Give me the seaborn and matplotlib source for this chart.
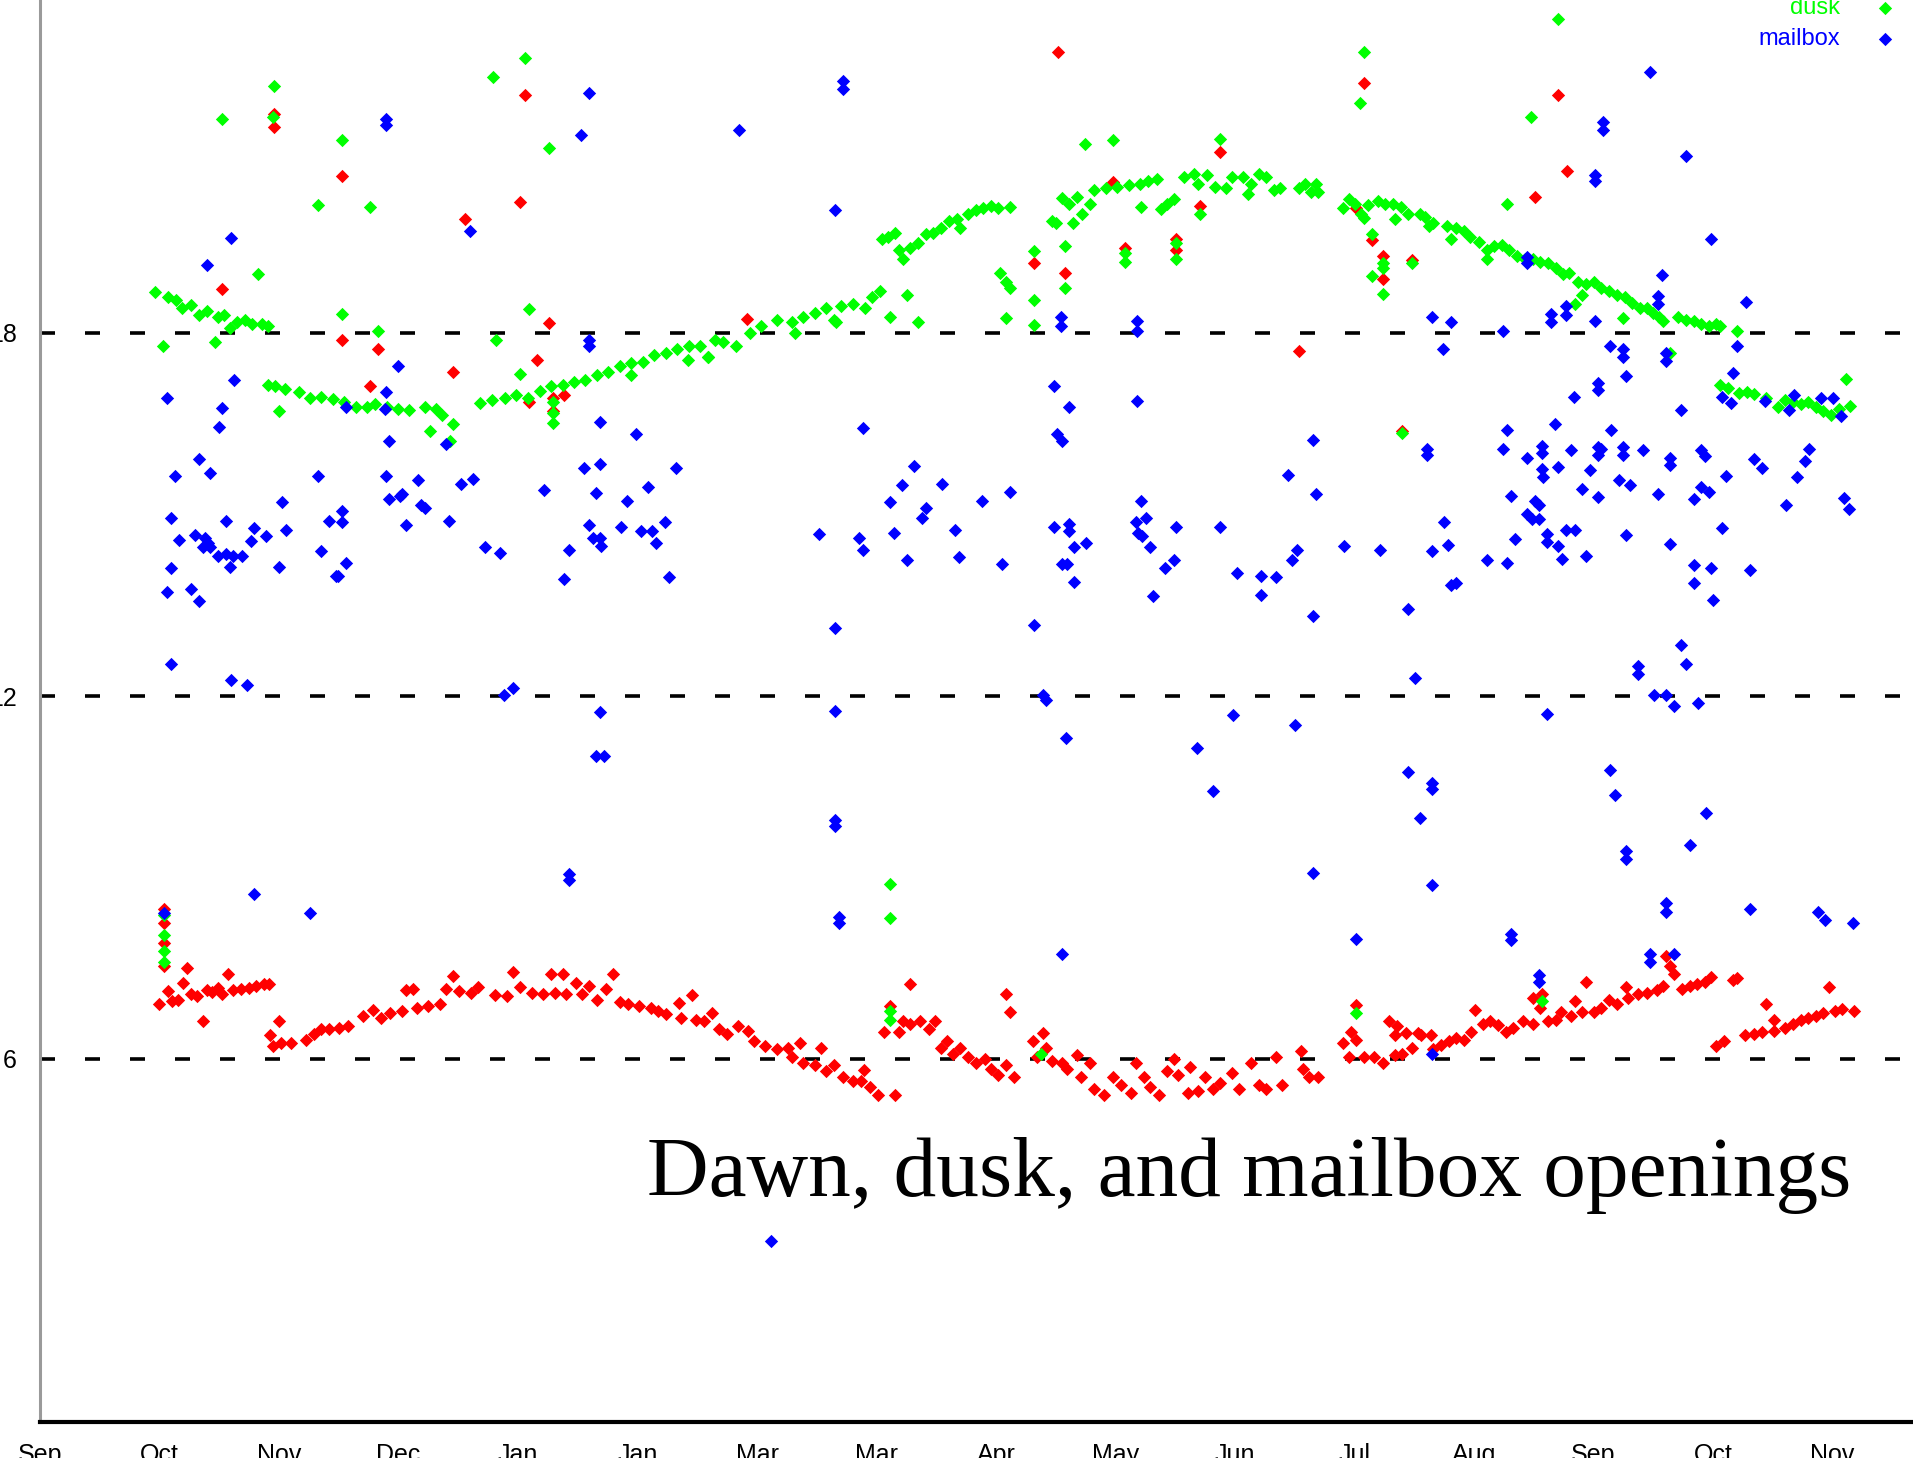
import pandas as pd
import seaborn as sns
import matplotlib.pyplot as plt

# --- data: (day since Sep 1, hour of day) ---
dawn_pts = [
    (31.1, 8.48), (31.1, 8.25), (31.1, 7.92), (31.1, 7.53),
    (29.8, 6.91), (32.2, 7.13), (33.2, 6.96), (34.6, 6.98), (36.0, 7.26), (37.0, 7.50),
    (38.0, 7.07), (39.4, 7.04), (40.9, 6.62), (41.8, 7.14), (43.3, 7.11), (44.7, 7.17),
    (45.7, 7.07), (47.1, 7.41), (48.5, 7.14), (50.5, 7.15), (52.4, 7.17), (54.3, 7.20),
    (56.2, 7.24), (57.4, 7.24), (57.7, 6.39), (58.6, 6.22), (60.1, 6.62), (60.5, 6.26),
    (62.9, 6.26), (66.8, 6.32), (68.7, 6.42), (70.6, 6.49), (72.6, 6.49), (75.0, 6.52),
    (77.4, 6.55), (81.2, 6.71), (83.6, 6.81), (85.5, 6.68), (87.9, 6.76), (90.8, 6.80),
    (91.8, 7.14), (93.7, 7.15), (94.6, 6.85), (97.5, 6.88), (100.4, 6.91), (101.9, 7.15),
    (103.8, 7.37), (105.2, 7.13), (108.1, 7.09), (110.0, 7.19), (114.3, 7.06), (117.2, 7.04),
    (118.7, 7.43), (120.6, 7.19), (123.5, 7.09), (126.3, 7.07), (128.3, 7.41), (129.2, 7.09),
    (131.2, 7.40), (132.1, 7.07), (134.5, 7.26), (136.0, 7.07), (137.9, 7.20), (139.8, 6.98),
    (142.2, 7.15), (143.8, 7.41), (145.6, 6.94), (147.5, 6.91), (150.4, 6.88), (153.3, 6.85),
    (155.2, 6.80), (157.1, 6.75), (160.4, 6.93), (160.9, 6.68), (163.6, 7.06), (164.8, 6.65),
    (166.7, 6.62), (168.6, 6.76), (170.5, 6.49), (172.5, 6.42), (175.3, 6.55), (177.7, 6.47),
    (179.2, 6.29), (182.0, 6.22), (184.9, 6.16), (187.8, 6.19), (188.8, 6.03), (190.7, 6.26),
    (191.6, 5.93), (194.5, 5.90), (196.0, 6.19), (197.4, 5.80), (199.3, 5.90), (201.7, 5.70),
    (204.1, 5.64), (206.0, 5.64), (206.8, 5.82), (208.4, 5.54), (210.4, 5.41), (214.7, 5.41),
    (211.8, 6.45), (213.5, 6.88), (215.7, 6.45), (216.6, 6.62), (218.5, 6.58), (218.3, 7.24),
    (220.9, 6.62), (223.3, 6.49), (224.8, 6.62), (226.2, 6.19), (227.7, 6.29), (229.1, 6.09),
    (231.0, 6.19), (233.0, 6.03), (234.9, 5.93), (237.3, 6.00), (238.7, 5.83), (240.6, 5.73),
    (242.5, 5.90), (244.5, 5.70), (242.4, 7.07), (243.5, 6.78), (249.3, 6.30), (250.2, 6.03),
    (251.7, 6.43), (252.6, 6.19), (254.1, 5.96), (256.5, 5.93), (257.9, 5.83), (260.3, 6.06),
    (261.3, 5.70), (263.7, 5.93), (264.6, 5.51), (267.0, 5.41), (269.4, 5.70), (271.3, 5.57),
    (273.8, 5.44), (275.2, 5.93), (277.1, 5.70), (278.6, 5.54), (281.0, 5.41), (282.9, 5.80),
    (284.8, 6.00), (285.8, 5.73), (288.2, 5.44), (288.7, 5.87), (290.6, 5.47), (292.5, 5.70),
    (294.4, 5.51), (296.3, 5.60), (299.2, 5.77), (301.1, 5.51), (304.0, 5.93), (306.0, 5.57),
    (307.9, 5.51), (310.3, 6.03), (311.7, 5.57), (316.6, 6.13), (317.1, 5.83), (318.5, 5.70),
    (320.9, 5.70), (327.2, 6.26), (328.6, 6.03), (329.1, 6.45), (330.3, 6.32), (330.3, 6.89),
    (332.4, 6.03), (334.8, 6.03), (337.2, 5.93), (338.7, 6.62), (340.1, 6.06), (340.1, 6.39),
    (340.6, 6.55), (342.0, 6.09), (343.0, 6.43), (344.4, 6.19), (345.9, 6.43), (346.8, 6.39),
    (349.2, 6.39), (349.7, 6.16), (351.6, 6.23), (353.6, 6.29), (355.5, 6.35), (357.4, 6.32),
    (359.3, 6.45), (360.3, 6.81), (362.2, 6.58), (364.1, 6.62), (366.1, 6.56), (368.0, 6.45),
    (369.9, 6.52), (372.3, 6.62), (374.7, 7.01), (374.7, 6.58), (376.6, 6.85), (377.1, 7.07),
    (378.5, 6.62), (380.5, 6.65), (381.9, 6.78), (384.3, 6.71), (385.3, 6.96), (387.2, 6.78),
    (388.1, 7.28), (390.1, 6.78), (392.0, 6.85), (393.9, 6.98), (395.8, 6.91), (398.2, 7.19),
    (398.7, 7.01), (401.1, 7.07), (403.5, 7.09), (405.9, 7.14), (407.4, 7.20), (408.3, 7.71),
    (409.3, 7.53), (410.2, 7.40), (412.2, 7.15), (414.1, 7.20), (416.0, 7.24), (417.9, 7.28),
    (419.4, 7.35), (420.8, 6.22), (422.7, 6.29), (425.1, 7.30), (426.1, 7.34), (428.0, 6.39),
    (430.4, 6.42), (432.3, 6.45), (433.3, 6.91), (435.2, 6.65), (435.2, 6.47), (438.1, 6.52),
    (440.0, 6.58), (442.0, 6.65), (443.9, 6.68), (445.8, 6.71), (447.7, 6.76), (449.2, 7.19),
    (450.6, 6.80), (452.5, 6.82), (455.4, 6.80),
    # stray dawn readings up in the evening
    (45.7, 18.72), (58.8, 21.62), (58.8, 21.40), (75.7, 20.60), (75.7, 17.89), (82.8, 17.12),
    (84.8, 17.73), (103.8, 17.36), (106.7, 19.88), (120.6, 20.16), (121.8, 21.94), (122.8, 16.86),
    (124.7, 17.56), (127.8, 18.17), (128.8, 16.93), (128.8, 16.71), (131.6, 16.97), (177.5, 18.23),
    (249.6, 19.16), (255.5, 22.64), (257.4, 19.00), (269.4, 20.49), (272.3, 19.40), (285.3, 19.55),
    (285.3, 19.37), (291.3, 20.10), (296.3, 21.00), (316.1, 17.71), (330.3, 20.07), (332.4, 22.13),
    (334.4, 19.53), (337.2, 19.28), (337.2, 18.89), (342.0, 16.38), (344.4, 19.20), (375.2, 20.25),
    (381.2, 21.94), (383.4, 20.68),
]

dusk_pts = [
    (31.1, 8.38), (31.1, 8.05), (31.1, 7.79), (31.1, 7.60),
    (28.8, 18.67), (30.8, 17.78), (32.2, 18.59), (34.1, 18.54), (35.6, 18.41), (38.0, 18.47),
    (39.9, 18.29), (41.8, 18.37), (44.0, 17.85), (44.7, 18.26), (46.1, 18.30), (47.6, 18.08),
    (49.5, 18.19), (51.4, 18.22), (53.3, 18.15), (55.7, 18.15), (57.2, 18.11), (57.2, 17.14),
    (59.1, 17.12), (61.5, 17.08), (64.9, 17.02), (67.7, 16.93), (70.6, 16.95), (73.5, 16.91),
    (76.4, 16.86), (79.3, 16.78), (82.2, 16.77), (84.1, 16.82), (87.0, 16.78), (89.8, 16.75),
    (92.7, 16.72), (96.6, 16.78), (97.8, 16.38), (99.4, 16.75), (100.9, 16.64), (103.0, 16.21),
    (103.8, 16.50), (110.5, 16.84), (113.4, 16.90), (116.7, 16.93), (119.6, 16.97), (122.5, 16.93),
    (125.4, 17.04), (128.3, 17.12), (131.2, 17.14), (134.0, 17.19), (136.9, 17.23), (139.8, 17.30),
    (142.7, 17.36), (145.6, 17.45), (148.4, 17.51), (151.3, 17.52), (154.2, 17.63), (157.1, 17.67),
    (160.0, 17.73), (162.9, 17.78), (165.7, 17.78), (167.6, 17.60), (169.5, 17.89), (171.5, 17.85),
    (174.8, 17.78), (178.2, 18.00), (181.1, 18.11), (184.9, 18.22), (188.8, 18.19), (191.6, 18.26),
    (194.5, 18.33), (197.4, 18.41), (199.3, 18.22), (201.2, 18.44), (204.1, 18.48), (207.0, 18.41),
    (208.9, 18.59), (210.8, 18.70), (211.3, 19.55), (212.8, 19.59), (214.7, 19.66), (215.7, 19.37),
    (216.6, 19.22), (218.5, 19.40), (220.5, 19.48), (222.4, 19.63), (224.3, 19.66), (226.2, 19.74),
    (228.1, 19.85), (230.1, 19.88), (231.0, 19.74), (233.0, 19.96), (234.9, 20.03), (236.8, 20.07),
    (238.7, 20.10), (240.6, 20.07), (243.5, 20.08), (254.1, 19.85), (255.0, 19.81), (256.5, 20.23),
    (258.4, 20.13), (259.4, 19.81), (260.3, 20.25), (261.6, 19.97), (263.7, 20.14), (264.6, 20.36),
    (267.5, 20.39), (270.4, 20.41), (273.3, 20.44), (276.2, 20.46), (276.5, 20.09), (278.1, 20.51),
    (280.5, 20.55), (281.5, 20.05), (282.9, 20.14), (284.8, 20.22), (287.2, 20.58), (289.6, 20.62),
    (290.6, 20.47), (291.3, 19.96), (293.0, 20.61), (294.9, 20.42), (297.8, 20.40), (299.2, 20.58),
    (302.1, 20.58), (303.3, 20.29), (304.0, 20.47), (305.9, 20.62), (307.9, 20.58), (309.8, 20.36),
    (311.3, 20.40), (316.1, 20.40), (317.5, 20.47), (319.0, 20.33), (320.4, 20.47), (320.9, 20.33),
    (327.1, 20.07), (328.6, 20.22), (330.0, 20.14), (331.5, 19.96), (332.4, 19.90), (333.4, 20.11),
    (335.8, 20.19), (337.7, 20.14), (339.6, 20.14), (340.1, 19.88), (341.6, 20.09), (343.5, 19.97),
    (346.4, 19.97), (347.8, 19.92), (348.8, 19.77), (349.7, 19.82), (353.1, 19.77), (355.5, 19.74),
    (357.4, 19.68), (358.9, 19.59), (361.3, 19.51), (363.2, 19.37), (365.1, 19.43), (367.0, 19.46),
    (368.9, 19.37), (370.9, 19.28), (372.8, 19.22), (374.7, 19.22), (376.6, 19.18), (378.5, 19.15),
    (380.5, 19.07), (382.4, 18.98), (383.8, 19.00), (386.2, 18.84), (388.1, 18.81), (390.1, 18.84),
    (392.0, 18.74), (393.9, 18.69), (395.8, 18.63), (397.8, 18.59), (399.7, 18.50), (401.6, 18.42),
    (403.5, 18.41), (405.0, 18.33), (406.4, 18.26), (407.4, 18.20), (411.2, 18.27), (413.1, 18.22),
    (415.1, 18.20), (417.0, 18.15), (418.9, 18.11), (420.8, 18.15), (421.8, 18.11), (421.8, 17.14),
    (423.7, 17.09), (426.6, 17.01), (428.5, 17.02), (430.4, 16.99), (433.3, 16.93), (436.2, 16.78),
    (438.1, 16.90), (440.0, 16.86), (442.0, 16.82), (443.9, 16.86), (445.8, 16.78), (447.7, 16.71),
    (449.6, 16.64), (451.6, 16.75), (453.3, 17.24), (454.4, 16.80),
    # stray dusk readings
    (54.8, 18.98), (45.8, 21.54), (58.8, 22.08), (58.6, 21.57), (69.7, 20.12), (75.7, 21.19),
    (75.7, 18.32), (82.8, 20.09), (84.8, 18.04), (59.9, 16.71), (113.7, 22.23), (114.6, 17.89),
    (120.6, 17.32), (121.8, 22.54), (122.8, 18.39), (127.8, 21.06), (128.8, 16.86), (128.8, 16.67),
    (128.8, 16.52), (148.4, 17.30), (162.7, 17.56), (167.7, 17.60), (213.5, 18.27), (217.6, 18.63),
    (220.5, 18.19), (189.5, 18.00), (199.8, 18.19), (241.1, 19.00), (242.5, 18.85), (243.5, 18.74),
    (242.5, 18.25), (249.6, 19.35), (249.6, 18.54), (249.6, 18.14), (257.4, 19.43), (257.4, 18.74),
    (262.4, 21.12), (269.3, 21.19), (272.3, 19.33), (272.3, 19.18), (285.3, 19.48), (285.3, 19.22),
    (296.3, 21.21), (334.4, 19.63), (334.4, 18.94), (337.2, 19.15), (337.2, 19.07), (337.2, 18.64),
    (344.4, 19.15), (354.3, 19.55), (363.2, 19.23), (368.3, 20.13), (332.4, 22.65), (331.3, 21.80),
    (374.2, 21.57), (381.2, 23.19), (385.3, 18.48), (387.2, 18.63), (397.3, 18.25), (409.3, 17.67),
    (426.1, 18.04), (342.0, 16.34), (213.5, 8.90), (213.5, 8.33), (213.5, 6.80), (213.5, 6.65),
    (251.2, 6.09), (330.3, 6.76), (377.1, 6.96),
]

mail_pts = [
    (47.9, 19.57), (41.8, 19.13), (86.8, 21.54), (86.8, 21.43), (107.9, 19.68), (137.9, 21.97),
    (135.8, 21.27), (137.7, 17.89), (137.7, 17.78), (48.7, 17.23), (31.8, 16.92), (45.8, 16.76),
    (44.9, 16.44), (89.8, 17.45), (86.8, 17.02), (86.5, 16.75), (76.9, 16.77), (87.7, 16.21),
    (101.9, 16.16), (140.6, 16.53), (149.6, 16.33), (33.9, 15.64), (39.9, 15.91), (42.8, 15.69),
    (69.7, 15.64), (86.8, 15.64), (94.8, 15.57), (105.7, 15.51), (108.8, 15.59), (126.6, 15.40),
    (136.6, 15.77), (140.6, 15.84), (159.7, 15.77), (152.6, 15.46), (139.6, 15.35), (60.8, 15.20),
    (61.8, 14.75), (56.7, 14.64), (53.8, 14.78), (52.9, 14.57), (50.7, 14.31), (47.8, 14.13),
    (46.8, 14.90), (44.7, 14.31), (48.5, 14.31), (46.6, 14.35), (40.9, 14.46), (42.3, 14.53),
    (38.9, 14.66), (41.3, 14.61), (42.8, 14.46), (34.9, 14.58), (33.0, 14.94), (33.0, 14.11),
    (31.8, 13.72), (37.8, 13.77), (39.9, 13.57), (33.0, 12.53), (47.9, 12.27), (51.9, 12.19),
    (59.9, 14.13), (72.6, 14.90), (75.9, 15.05), (75.9, 14.87), (70.6, 14.39), (74.3, 13.98),
    (74.9, 13.98), (76.9, 14.20), (90.3, 15.31), (90.8, 15.34), (87.7, 15.25), (91.8, 14.83),
    (95.6, 15.16), (96.6, 15.10), (102.8, 14.90), (111.7, 14.46), (115.6, 14.36), (116.5, 12.02),
    (118.7, 12.13), (132.9, 14.41), (131.6, 13.94), (137.7, 14.83), (138.8, 14.61), (140.6, 14.61),
    (140.9, 14.48), (145.8, 14.79), (147.3, 15.22), (150.8, 14.73), (153.7, 14.73), (154.7, 14.53),
    (156.8, 14.88), (157.9, 13.96), (140.7, 11.73), (139.6, 11.01), (141.7, 11.01), (53.8, 8.72),
    (67.8, 8.41), (31.1, 8.41), (132.8, 9.05), (132.8, 8.96),
    (175.6, 21.35), (201.5, 22.16), (201.5, 22.04), (199.5, 20.03), (256.2, 18.26), (256.2, 18.11),
    (275.5, 18.20), (275.5, 18.04), (254.6, 17.12), (258.4, 16.77), (275.5, 16.87), (206.6, 16.43),
    (255.2, 16.33), (256.5, 16.21), (219.5, 15.80), (216.4, 15.49), (226.5, 15.51), (213.5, 15.20),
    (222.4, 15.10), (221.4, 14.94), (214.5, 14.70), (195.5, 14.67), (205.6, 14.61), (206.6, 14.42),
    (217.6, 14.25), (229.6, 14.75), (230.6, 14.29), (236.5, 15.23), (243.5, 15.37), (241.6, 14.19),
    (199.5, 13.12), (249.6, 13.18), (254.6, 14.79), (258.4, 14.85), (258.4, 14.72), (259.7, 14.46),
    (262.5, 14.53), (256.5, 14.19), (257.9, 14.19), (259.6, 13.89), (276.5, 15.22), (275.2, 14.87),
    (277.6, 14.94), (275.7, 14.70), (276.6, 14.64), (278.6, 14.46), (285.3, 14.79), (284.6, 14.24),
    (282.4, 14.11), (279.5, 13.65), (296.3, 14.79), (300.5, 14.04), (306.4, 13.98), (310.3, 13.96),
    (306.4, 13.67), (313.4, 15.66), (315.6, 14.42), (314.4, 14.24), (199.5, 11.75), (199.5, 9.95),
    (199.5, 9.85), (200.6, 8.35), (200.6, 8.25), (183.5, 2.99), (251.7, 12.01), (252.6, 11.94),
    (257.6, 11.31), (256.5, 7.73), (290.4, 11.14), (294.4, 10.43), (299.4, 11.69), (315.1, 11.52),
    (404.2, 22.32), (392.3, 21.49), (392.3, 21.36), (390.3, 20.61), (390.3, 20.51), (413.3, 20.93),
    (419.4, 19.55), (407.2, 18.96), (373.3, 19.26), (373.3, 19.15), (406.2, 18.61), (406.2, 18.48),
    (428.2, 18.52), (349.5, 18.26), (354.3, 18.19), (367.3, 18.04), (379.2, 18.32), (379.2, 18.19),
    (383.2, 18.44), (383.2, 18.30), (390.3, 18.20), (352.3, 17.74), (394.2, 17.78), (397.3, 17.73),
    (397.3, 17.60), (398.2, 17.29), (408.1, 17.67), (408.1, 17.54), (426.1, 17.78), (425.1, 17.34),
    (385.1, 16.95), (391.2, 17.17), (391.2, 17.06), (422.3, 16.95), (424.5, 16.84), (412.0, 16.73),
    (433.1, 16.87), (439.1, 16.72), (440.3, 16.97), (447.0, 16.93), (450.1, 16.92), (452.0, 16.62),
    (319.5, 16.23), (348.3, 16.08), (348.3, 15.99), (368.3, 16.40), (367.3, 16.08), (373.3, 15.94),
    (377.1, 16.13), (377.1, 16.01), (380.3, 16.50), (384.3, 16.06), (381.2, 15.79), (377.1, 15.75),
    (377.4, 15.62), (391.0, 16.12), (391.0, 15.99), (392.0, 16.08), (394.4, 16.40), (397.3, 16.12),
    (397.3, 15.99), (402.4, 16.06), (409.3, 15.94), (409.3, 15.81), (417.0, 16.06), (417.9, 15.97),
    (423.2, 15.64), (430.2, 15.91), (432.3, 15.77), (444.2, 16.08), (443.2, 15.88), (441.0, 15.62),
    (438.3, 15.15), (453.0, 15.27), (454.2, 15.09), (320.4, 15.34), (389.1, 15.74), (387.2, 15.42),
    (391.2, 15.29), (396.3, 15.57), (399.2, 15.49), (406.2, 15.34), (415.1, 15.25), (417.0, 15.46),
    (419.1, 15.37), (369.2, 15.31), (375.2, 15.23), (376.4, 15.16), (373.3, 15.01), (374.5, 14.92),
    (376.4, 14.92), (378.4, 14.68), (378.4, 14.55), (381.2, 14.48), (382.2, 14.27), (383.2, 14.75),
    (385.3, 14.75), (388.2, 14.31), (398.2, 14.66), (409.1, 14.51), (422.3, 14.77), (370.4, 14.59),
    (363.2, 14.24), (368.3, 14.20), (352.4, 14.87), (353.4, 14.50), (349.4, 14.39), (354.3, 13.83),
    (355.5, 13.87), (343.3, 13.43), (327.4, 14.48), (336.5, 14.42), (319.5, 13.32), (345.1, 12.30),
    (415.1, 14.16), (415.1, 13.87), (419.4, 14.11), (420.1, 13.59), (429.3, 14.09), (412.0, 12.85),
    (413.3, 12.53), (401.1, 12.50), (401.1, 12.36), (405.2, 12.02), (408.3, 12.02),
    (319.5, 9.07), (330.3, 7.99), (343.3, 10.75), (349.4, 10.57), (349.4, 10.46), (346.4, 9.98),
    (349.4, 8.87), (349.4, 6.09), (369.2, 8.07), (369.2, 7.96), (376.4, 7.39), (376.4, 7.27),
    (378.3, 11.70), (394.2, 10.78), (395.4, 10.36), (398.2, 9.43), (398.2, 9.31), (410.2, 11.83),
    (416.3, 11.88), (418.2, 10.06), (414.3, 9.54), (408.3, 8.58), (408.3, 8.43), (404.2, 7.74),
    (404.2, 7.61), (410.2, 7.73), (429.3, 8.48), (446.3, 8.43), (448.2, 8.30), (455.1, 8.25),
]

month_labels = ['Sep', 'Oct', 'Nov', 'Dec', 'Jan', 'Jan', 'Mar', 'Mar',
                'Apr', 'May', 'Jun', 'Jul', 'Aug', 'Sep', 'Oct', 'Nov']
month_ticks = [30 * i for i in range(len(month_labels))]
hour_ticks = [6, 12, 18]
hour_labels = ['6', '12', '18']

series = [('dawn', dawn_pts, '#ff0000'),
          ('dusk', dusk_pts, '#00ff00'),
          ('mailbox', mail_pts, '#0000ff')]

sns.set_style('white')
plt.rcParams['font.family'] = ['Liberation Sans', 'DejaVu Sans']
plt.rcParams['lines.scale_dashes'] = False

W, H = 1913, 1458
fig = plt.figure(figsize=(W / 100, H / 100), dpi=100)
ax = fig.add_axes([40 / W, 36 / H, 1 - 40 / W, 1452 / H])

# dashed guide lines behind the points
for h in hour_ticks:
    ax.axhline(h, color='black', lw=2.6, ls=(0, (10.8, 21.6)), zorder=1)

for name, pts, col in series:
    df = pd.DataFrame(pts, columns=['day', 'hour'])
    sns.scatterplot(data=df, x='day', y='hour', color=col, marker='D', s=46,
                    linewidth=0, label=name, ax=ax, zorder=3)

ax.set_xlim(0, 470.2)
ax.set_ylim(0, 24)
ax.set_xticks(month_ticks)
ax.set_xticklabels(month_labels)
ax.set_yticks(hour_ticks)
ax.set_yticklabels(hour_labels)
ax.set_xlabel('')
ax.set_ylabel('')
ax.tick_params(axis='x', length=4, width=1.2, pad=11, labelsize=18,
               color='black', labelcolor='black')
ax.tick_params(axis='y', length=5, width=1.0, pad=11.5, labelsize=18,
               color='black', labelcolor='black')

for s in ['top', 'right']:
    ax.spines[s].set_visible(False)
ax.spines['left'].set_color('#9a9a9a')
ax.spines['left'].set_linewidth(2.2)
ax.spines['bottom'].set_color('black')
ax.spines['bottom'].set_linewidth(3)

leg = ax.legend(loc='upper right', bbox_to_anchor=(1897 / W, 1 + 33 / H),
                bbox_transform=fig.transFigure, frameon=False, markerfirst=False,
                fontsize=17, handlelength=1.0, handletextpad=1.4, labelspacing=0.36,
                borderpad=0, borderaxespad=0,
                labelcolor=['#ff0000', '#00ff00', '#0000ff'])

fig.text(1851 / W, 1 - 1196 / H, 'Dawn, dusk, and mailbox openings',
         ha='right', va='baseline', fontsize=61.5, color='black',
         family='Liberation Serif')

fig.savefig('out.png', dpi=100)
